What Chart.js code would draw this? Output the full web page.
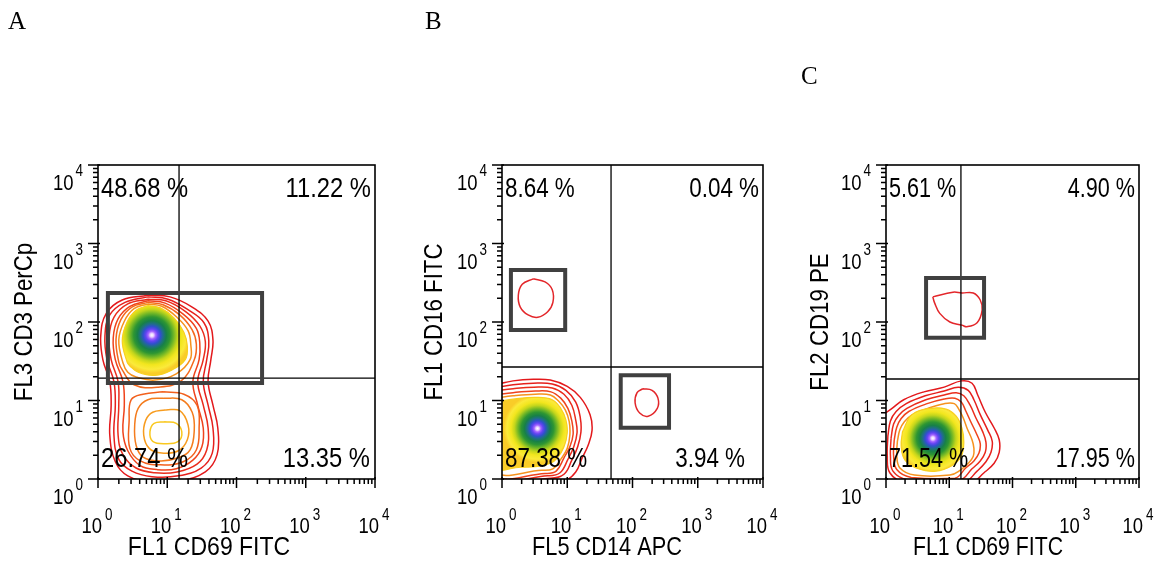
<!DOCTYPE html>
<html><head><meta charset="utf-8">
<script src="https://cdn.jsdelivr.net/npm/chart.js@4.4.1/dist/chart.umd.min.js"></script>
<style>
html,body{margin:0;padding:0;background:#fff;}
#wrap{position:relative;width:1161px;height:563px;overflow:hidden;background:#fff;}
canvas{position:absolute;left:0;top:0;}
</style></head><body>
<div id="wrap">
<canvas id="cA" width="1161" height="563"></canvas>
<canvas id="cB" width="1161" height="563"></canvas>
<canvas id="cC" width="1161" height="563"></canvas>
</div>
<script>
// ---------------- DATA ----------------
const tickValues = [1, 10, 100, 1000, 10000];
const tickExponents = ['0', '1', '2', '3', '4'];
const minorMultipliers = [2, 3, 4, 5, 6, 7, 8, 9];
const panelLetters = ['A', 'B', 'C'];
const xTitles = ['FL1 CD69 FITC', 'FL5 CD14 APC', 'FL1 CD69 FITC'];
const yTitles = ['FL3 CD3 PerCp', 'FL1 CD16 FITC', 'FL2 CD19 PE'];
const pctUpperLeft = ['48.68 %', '8.64 %', '5.61 %'];
const pctUpperRight = ['11.22 %', '0.04 %', '4.90 %'];
const pctLowerLeft = ['26.74 %', '87.38 %', '71.54 %'];
const pctLowerRight = ['13.35 %', '3.94 %', '17.95 %'];
const quadrantX = [14.8, 46.9, 15.3];
const quadrantY = [19.3, 26.7, 18.8];
// gates: [xMin, xMax, yMin, yMax]
const gatesA = [[1.39, 234, 16.7, 234]];
const gatesB = [[1.37, 9.3, 79, 458], [66, 363, 4.5, 21]];
const gatesC = [[4.3, 35.5, 63, 363]];
const coreCenterX = [6.0, 3.5, 5.5];
const coreCenterY = [68, 4.4, 3.3];

// contour rings, points as [log10 x, log10 y]
const contourA1 = [[0.72,2.34],[1.04,2.32],[1.36,2.19],[1.59,2.01],[1.66,1.77],[1.63,1.52],[1.59,1.24],[1.66,0.94],[1.73,0.65],[1.72,0.31],[1.55,0.09],[1.18,-0.02],[0.75,-0.03],[0.43,0.04],[0.25,0.22],[0.17,0.56],[0.19,0.94],[0.17,1.24],[0.07,1.52],[0.04,1.83],[0.12,2.11],[0.35,2.28]];
const contourA2 = [[0.72,2.32],[1.01,2.29],[1.31,2.15],[1.53,1.99],[1.60,1.76],[1.57,1.52],[1.52,1.24],[1.59,0.94],[1.66,0.65],[1.65,0.33],[1.49,0.14],[1.16,0.04],[0.78,0.03],[0.49,0.10],[0.30,0.25],[0.23,0.56],[0.25,0.94],[0.23,1.24],[0.13,1.52],[0.10,1.82],[0.17,2.09],[0.39,2.25]];
const contourA3 = [[0.72,2.29],[0.98,2.27],[1.27,2.13],[1.47,1.95],[1.55,1.75],[1.52,1.52],[1.44,1.24],[1.52,0.94],[1.59,0.65],[1.57,0.37],[1.43,0.19],[1.14,0.09],[0.82,0.08],[0.55,0.14],[0.36,0.31],[0.29,0.56],[0.30,0.94],[0.29,1.24],[0.19,1.52],[0.16,1.81],[0.23,2.06],[0.43,2.23]];
const contourA4 = [[0.72,2.27],[0.97,2.24],[1.23,2.10],[1.42,1.92],[1.47,1.73],[1.46,1.52],[1.37,1.24],[1.44,0.94],[1.52,0.65],[1.50,0.41],[1.37,0.24],[1.13,0.13],[0.85,0.12],[0.61,0.17],[0.43,0.36],[0.36,0.60],[0.38,0.94],[0.36,1.24],[0.25,1.52],[0.22,1.80],[0.29,2.04],[0.46,2.20]];
const contourA5 = [[0.72,2.25],[0.94,2.22],[1.18,2.09],[1.36,1.90],[1.42,1.72],[1.39,1.52],[1.20,1.25],[0.87,1.17],[0.52,1.20],[0.35,1.39],[0.30,1.49],[0.26,1.78],[0.33,2.03],[0.49,2.19]];
const contourA6 = [[0.72,2.23],[0.92,2.20],[1.14,2.06],[1.30,1.89],[1.34,1.71],[1.33,1.52],[1.13,1.34],[0.82,1.26],[0.55,1.30],[0.43,1.36],[0.36,1.48],[0.30,1.77],[0.38,2.01],[0.52,2.17]];
const coreA = [[0.72,2.21],[0.90,2.18],[1.10,2.05],[1.24,1.87],[1.29,1.69],[1.26,1.52],[1.07,1.39],[0.82,1.32],[0.58,1.36],[0.46,1.44],[0.42,1.49],[0.35,1.76],[0.42,2.00],[0.55,2.15]];
const contourA7 = [[0.94,1.11],[1.24,1.08],[1.43,0.94],[1.46,0.65],[1.42,0.37],[1.23,0.22],[0.90,0.18],[0.61,0.23],[0.46,0.39],[0.45,0.75],[0.48,1.01],[0.65,1.08]];
const contourA8 = [[0.94,1.03],[1.21,1.01],[1.36,0.85],[1.39,0.62],[1.33,0.37],[1.16,0.27],[0.90,0.23],[0.65,0.28],[0.55,0.43],[0.53,0.69],[0.58,0.90],[0.72,1.01]];
const contourA9 = [[0.97,0.88],[1.18,0.87],[1.30,0.69],[1.29,0.50],[1.16,0.36],[0.92,0.33],[0.74,0.39],[0.66,0.56],[0.69,0.75],[0.79,0.85]];
const contourA10 = [[0.97,0.73],[1.13,0.71],[1.21,0.60],[1.16,0.48],[0.97,0.45],[0.79,0.48],[0.75,0.60],[0.81,0.71]];

const contourB1 = [[-0.11,1.20],[0.17,1.25],[0.48,1.27],[0.74,1.26],[1.00,1.18],[1.20,1.04],[1.35,0.82],[1.38,0.62],[1.32,0.43],[1.23,0.27],[1.13,0.09],[0.97,-0.02],[0.58,-0.05],[-0.11,-0.05]];
const contourB2 = [[-0.11,1.16],[0.17,1.20],[0.48,1.22],[0.77,1.21],[0.98,1.13],[1.13,0.98],[1.20,0.78],[1.21,0.60],[1.16,0.41],[1.07,0.24],[0.95,0.06],[0.74,0.01],[-0.11,0.01]];
const contourB3 = [[-0.11,1.12],[0.17,1.15],[0.49,1.17],[0.77,1.16],[0.95,1.08],[1.07,0.94],[1.13,0.75],[1.15,0.59],[1.10,0.41],[1.01,0.25],[0.89,0.08],[0.70,0.04],[-0.11,0.04]];
const contourB4 = [[-0.11,1.07],[0.17,1.10],[0.51,1.12],[0.75,1.11],[0.90,1.03],[1.01,0.90],[1.07,0.74],[1.09,0.57],[1.04,0.41],[0.95,0.27],[0.83,0.10],[0.66,0.07],[-0.11,0.07]];
const contourB5 = [[-0.11,1.03],[0.17,1.06],[0.51,1.08],[0.74,1.07],[0.87,0.99],[0.97,0.88],[1.03,0.73],[1.04,0.56],[1.00,0.39],[0.90,0.25],[0.78,0.13],[0.61,0.11],[-0.11,0.11]];
const coreB = [[-0.11,0.98],[0.20,1.02],[0.52,1.04],[0.77,1.01],[0.90,0.90],[0.98,0.75],[1.00,0.59],[0.95,0.41],[0.85,0.27],[0.74,0.20],[0.55,0.16],[0.28,0.15],[-0.11,0.15]];
const contourB6 = [[0.48,2.55],[0.66,2.51],[0.77,2.41],[0.78,2.25],[0.70,2.13],[0.55,2.06],[0.40,2.09],[0.28,2.19],[0.25,2.34],[0.31,2.48]];
const contourB7 = [[2.16,1.15],[2.30,1.13],[2.39,1.03],[2.38,0.90],[2.24,0.80],[2.11,0.84],[2.04,0.97],[2.07,1.10]];

const contourC1 = [[-0.09,0.80],[0.08,0.89],[0.28,1.01],[0.60,1.11],[0.92,1.17],[1.19,1.25],[1.36,1.22],[1.45,1.07],[1.57,0.85],[1.71,0.65],[1.79,0.50],[1.79,0.34],[1.71,0.20],[1.55,0.08],[1.33,-0.05],[-0.09,-0.05]];
const contourC2 = [[0.03,0.55],[0.07,0.74],[0.16,0.86],[0.32,0.96],[0.62,1.06],[0.92,1.12],[1.14,1.17],[1.30,1.13],[1.39,1.01],[1.49,0.82],[1.61,0.62],[1.68,0.48],[1.66,0.34],[1.58,0.22],[1.44,0.10],[1.23,-0.04],[0.30,-0.04],[0.06,0.08],[0.02,0.30]];
const contourC3 = [[0.08,0.52],[0.12,0.70],[0.20,0.81],[0.33,0.90],[0.63,1.01],[0.92,1.07],[1.11,1.10],[1.23,1.06],[1.33,0.94],[1.42,0.78],[1.53,0.60],[1.58,0.47],[1.57,0.34],[1.49,0.23],[1.36,0.13],[1.17,-0.01],[0.35,-0.01],[0.11,0.10],[0.07,0.30]];
const contourC4 = [[0.13,0.50],[0.17,0.66],[0.24,0.77],[0.36,0.86],[0.65,0.96],[0.92,1.02],[1.09,1.03],[1.19,0.98],[1.26,0.87],[1.34,0.73],[1.44,0.56],[1.49,0.45],[1.47,0.33],[1.39,0.23],[1.26,0.14],[1.09,0.01],[0.40,0.02],[0.17,0.12],[0.12,0.30]];
const contourC5 = [[0.18,0.48],[0.22,0.63],[0.29,0.73],[0.40,0.81],[0.66,0.90],[0.92,0.96],[1.08,0.96],[1.15,0.89],[1.22,0.78],[1.28,0.65],[1.36,0.50],[1.39,0.39],[1.38,0.29],[1.30,0.20],[1.17,0.11],[1.01,0.05],[0.45,0.05],[0.22,0.14],[0.17,0.30]];
const coreC = [[0.26,0.60],[0.41,0.82],[0.70,0.90],[0.95,0.89],[1.11,0.80],[1.20,0.65],[1.23,0.47],[1.19,0.29],[1.04,0.17],[0.79,0.10],[0.51,0.13],[0.30,0.24],[0.24,0.42]];
const contourC6 = [[0.74,2.32],[1.06,2.38],[1.20,2.37],[1.38,2.37],[1.49,2.28],[1.52,2.15],[1.44,1.99],[1.28,1.94],[1.20,1.96],[1.01,2.00],[0.85,2.11],[0.77,2.24]];

// ---------------- STYLE / LAYOUT ----------------
const FONT = '"Liberation Sans", Arial, Helvetica, sans-serif';
const SERIF = '"Liberation Serif", "Times New Roman", serif';
const RED = ['#e3191c', '#e6201c', '#ea2c1c', '#ef431c', '#f4681d', '#f6921e'];
const coreStops = [[0,'#ffffff'],[0.05,'#e8ccff'],[0.10,'#a464ff'],[0.16,'#6444f2'],[0.23,'#3050cc'],[0.30,'#1f6e88'],[0.38,'#178048'],[0.48,'#2e9632'],[0.58,'#74b826'],[0.68,'#c4d61c'],[0.78,'#f2e61e'],[0.90,'#fbea3a'],[1,'#f9cc28']];

const panels = [
  { canvas: 'cA', area: [98, 165, 375, 479], xTitleX: 209, yTitleX: 32, letterPos: [8, 29], pctK: 0.88, titleK: 0.92, lrOffset: 5,
    rings: [[contourA1,RED[0]],[contourA2,RED[1]],[contourA3,RED[2]],[contourA4,RED[3]],[contourA7,'#f2601d'],[contourA8,'#f47c1e'],[contourA9,'#f79c1f'],[contourA10,'#f9c81f'],[contourA5,RED[4]],[contourA6,RED[5]]],
    core: coreA, coreRadius: 38, gates: gatesA },
  { canvas: 'cB', area: [502, 165, 763, 479], xTitleX: 607, yTitleX: 442, letterPos: [425, 29], pctK: 0.83, titleK: 0.87, lrOffset: 18,
    rings: [[contourB1,RED[0]],[contourB2,RED[1]],[contourB3,RED[2]],[contourB4,RED[3]],[contourB5,RED[5]],[contourB6,'#e3262a'],[contourB7,'#e3262a']],
    core: coreB, coreRadius: 34, gates: gatesB },
  { canvas: 'cC', area: [886, 165, 1139, 479], xTitleX: 988, yTitleX: 828, letterPos: [801, 84], pctK: 0.80, titleK: 0.85, lrOffset: 4,
    rings: [[contourC1,RED[0]],[contourC2,RED[1]],[contourC3,RED[2]],[contourC4,RED[3]],[contourC5,RED[5]],[contourC6,'#e3262a']],
    core: coreC, coreRadius: 34, gates: gatesC }
];

function toPoints(arr) {
  const pts = arr.map(p => ({ x: Math.pow(10, p[0]), y: Math.pow(10, p[1]) }));
  pts.push({ x: pts[0].x, y: pts[0].y });
  return pts;
}

function drawText(ctx, str, x, y, size, align, k, font) {
  ctx.save();
  ctx.font = size + 'px ' + (font || FONT);
  ctx.fillStyle = '#000';
  ctx.textBaseline = 'alphabetic';
  ctx.textAlign = 'left';
  const w = ctx.measureText(str).width * k;
  let x0 = x;
  if (align === 'right') x0 = x - w; else if (align === 'center') x0 = x - w / 2;
  ctx.translate(x0, y);
  ctx.scale(k, 1);
  ctx.fillText(str, 0, 0);
  ctx.restore();
  return w;
}
function textWidth(ctx, str, size, k) {
  ctx.save(); ctx.font = size + 'px ' + FONT; const w = ctx.measureText(str).width * k; ctx.restore(); return w;
}

function makePanelPlugin(i) {
  const P = panels[i];
  return {
    id: 'panelDecor' + i,
    afterDatasetsDraw(chart) {
      const ctx = chart.ctx, a = chart.chartArea, xs = chart.scales.x, ys = chart.scales.y;
      ctx.save();
      ctx.strokeStyle = '#000';
      ctx.lineWidth = 1.6;
      ctx.strokeRect(a.left, a.top, a.right - a.left, a.bottom - a.top);
      ctx.lineWidth = 1.5;
      ctx.beginPath();
      tickValues.forEach((v, e) => {
        const px = xs.getPixelForValue(v), py = ys.getPixelForValue(v);
        ctx.moveTo(px, a.bottom - 2); ctx.lineTo(px, a.bottom + 9);
        ctx.moveTo(a.left + 2, py); ctx.lineTo(a.left - 10, py);
        if (e < tickValues.length - 1) {
          minorMultipliers.forEach(m => {
            const mx = xs.getPixelForValue(v * m), my = ys.getPixelForValue(v * m);
            ctx.moveTo(mx, a.bottom); ctx.lineTo(mx, a.bottom + 5);
            ctx.moveTo(a.left, my); ctx.lineTo(a.left - 5, my);
          });
        }
      });
      ctx.stroke();
      const tk = 0.84;
      tickValues.forEach((v, e) => {
        const px = xs.getPixelForValue(v);
        drawText(ctx, '10', px + 4, a.bottom + 54, 22, 'right', tk);
        drawText(ctx, tickExponents[e], px + 7, a.bottom + 41, 16, 'left', tk);
        const py = ys.getPixelForValue(v);
        const supRight = a.left - 15;
        const ws = textWidth(ctx, tickExponents[e], 16, tk);
        drawText(ctx, tickExponents[e], supRight - ws, py + 11, 16, 'left', tk);
        drawText(ctx, '10', supRight - ws - 2, py + 25, 22, 'right', tk);
      });
      drawText(ctx, pctUpperLeft[i], a.left + 3, a.top + 32, 27, 'left', P.pctK);
      drawText(ctx, pctUpperRight[i], a.right - 4, a.top + 32, 27, 'right', P.pctK);
      drawText(ctx, pctLowerLeft[i], a.left + 3, a.bottom - 12, 27, 'left', P.pctK);
      drawText(ctx, pctLowerRight[i], a.right - P.lrOffset, a.bottom - 12, 27, 'right', P.pctK);
      drawText(ctx, xTitles[i], P.xTitleX, a.bottom + 76, 25, 'center', P.titleK);
      ctx.save();
      ctx.translate(P.yTitleX, (a.top + a.bottom) / 2);
      ctx.rotate(-Math.PI / 2);
      drawText(ctx, yTitles[i], 0, 0, 25, 'center', 0.89);
      ctx.restore();
      drawText(ctx, panelLetters[i], P.letterPos[0], P.letterPos[1], 25, 'left', 1, SERIF);
      ctx.restore();
    }
  };
}

function coreGradient(i) {
  return function (context) {
    const chart = context.chart;
    const xs = chart.scales.x, ys = chart.scales.y;
    if (!chart.chartArea || !xs || !ys) return '#f5e020';
    const cx = xs.getPixelForValue(coreCenterX[i]);
    const cy = ys.getPixelForValue(coreCenterY[i]);
    const g = chart.ctx.createRadialGradient(cx, cy, 0, cx, cy, panels[i].coreRadius);
    coreStops.forEach(s => g.addColorStop(s[0], s[1]));
    return g;
  };
}

panels.forEach((P, i) => {
  const datasets = [];
  P.gates.forEach(g => {
    datasets.push({
      data: [{x:g[0],y:g[2]},{x:g[1],y:g[2]},{x:g[1],y:g[3]},{x:g[0],y:g[3]},{x:g[0],y:g[2]}],
      showLine: true, borderColor: '#404040', borderWidth: 4, borderJoinStyle: 'miter', borderCapStyle: 'square',
      pointRadius: 0, tension: 0, fill: false, order: 0
    });
  });
  datasets.push({ data: [{x: quadrantX[i], y: 1}, {x: quadrantX[i], y: 10000}], showLine: true, borderColor: '#000', borderWidth: 1.3, pointRadius: 0, fill: false, order: 1 });
  datasets.push({ data: [{x: 1, y: quadrantY[i]}, {x: 10000, y: quadrantY[i]}], showLine: true, borderColor: '#000', borderWidth: 1.3, pointRadius: 0, fill: false, order: 1 });
  datasets.push({ data: toPoints(P.core), showLine: true, fill: 'shape', backgroundColor: coreGradient(i), borderColor: '#f8d01f', borderWidth: 1.2, pointRadius: 0, tension: 0.4, order: 2 });
  P.rings.forEach((r, k) => {
    datasets.push({ data: toPoints(r[0]), showLine: true, borderColor: r[1], borderWidth: 1.5, pointRadius: 0, tension: 0.4, fill: false, order: 100 - k });
  });
  const [l, t, rgt, b] = P.area;
  new Chart(document.getElementById(P.canvas), {
    type: 'scatter',
    data: { datasets },
    options: {
      responsive: false, animation: false, devicePixelRatio: 1, events: [],
      layout: { padding: { left: l, top: t, right: 1161 - rgt, bottom: 563 - b } },
      plugins: { legend: { display: false }, tooltip: { enabled: false }, title: { display: false } },
      scales: {
        x: { type: 'logarithmic', min: 1, max: 10000, display: false },
        y: { type: 'logarithmic', min: 1, max: 10000, display: false }
      },
      elements: { point: { radius: 0, hoverRadius: 0 } }
    },
    plugins: [makePanelPlugin(i)]
  });
});
</script>
</body></html>
